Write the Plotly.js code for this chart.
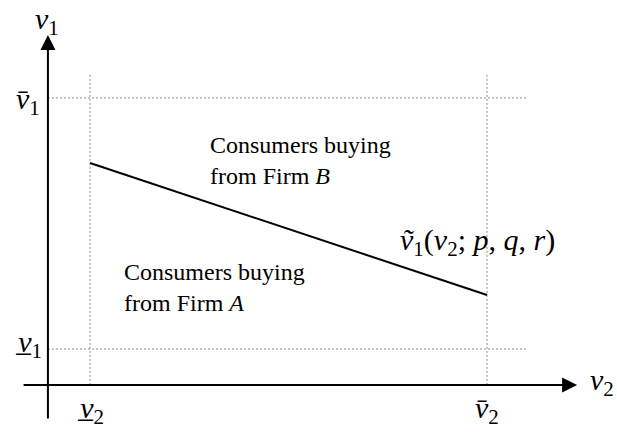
<!DOCTYPE html>
<html>
<head>
<meta charset="utf-8">
<script src="https://cdn.plot.ly/plotly-3.0.1.min.js"></script>
<style>html,body{margin:0;padding:0;background:#fff;}#chart{width:617px;height:436px;}</style>
</head>
<body>
<div id="chart"></div>
<script>
// ---- data (normalised units: lower bound = 0, upper bound = 1) ----
const v2Bounds = [0, 1];          // v2 lower, v2 upper
const v1Bounds = [0, 1];          // v1 lower, v1 upper
const boundaryV2 = [0, 1];        // cut-off curve, x values
const boundaryV1 = [0.741, 0.215];// cut-off curve, v1 values
const v2TickLabels = ["<i>v̲</i><sub>2</sub>", "<i>v̄</i><sub>2</sub>"];
const v1TickLabels = ["<i>v̲</i><sub>1</sub>", "<i>v̄</i><sub>1</sub>"];
const regionLabels = ["Consumers buying<br>from Firm <i>B</i>", "Consumers buying<br>from Firm <i>A</i>"];
const boundaryLabel = "<i>ṽ</i><sub>1</sub>(<i>v</i><sub>2</sub>; <i>p</i>, <i>q</i>, <i>r</i>)";
const axisNames = ["<i>v</i><sub>2</sub>", "<i>v</i><sub>1</sub>"];

// axis geometry in the same units
const originX = -0.106, originY = -0.143;
const xAxisStart = -0.171, xAxisEnd = 1.227;
const yAxisStart = -0.283, yAxisEnd = 1.251;
const guideTop = 1.096, guideRight = 1.101;

const mathFont = {family: "'Liberation Serif', 'Times New Roman', serif", size: 30, color: "#000"};
const textFont = {family: "'Liberation Serif', 'Times New Roman', serif", size: 24, color: "#000"};
const guide = {color: "#8a8a8a", width: 1, dash: "2px,2px"};

const traces = [];
// vertical guides
v2Bounds.forEach(v => traces.push({x: [v, v], y: [originY, guideTop], mode: "lines", line: guide, hoverinfo: "skip"}));
// horizontal guides
v1Bounds.forEach(v => traces.push({x: [originX, guideRight], y: [v, v], mode: "lines", line: guide, hoverinfo: "skip"}));
// boundary line
traces.push({x: boundaryV2, y: boundaryV1, mode: "lines", line: {color: "#000", width: 2}, hoverinfo: "skip"});

const annotations = [
  // axes with arrowheads
  {x: xAxisEnd, y: originY, ax: xAxisStart, ay: originY, axref: "x", ayref: "y", xref: "x", yref: "y",
   text: "", showarrow: true, arrowhead: 2, arrowsize: 1.5, arrowwidth: 2, arrowcolor: "#000", standoff: 0},
  {x: originX, y: yAxisEnd, ax: originX, ay: yAxisStart, axref: "x", ayref: "y", xref: "x", yref: "y",
   text: "", showarrow: true, arrowhead: 2, arrowsize: 1.5, arrowwidth: 2, arrowcolor: "#000", standoff: 0},
  // axis names
  {x: 1.29, y: -0.131, text: axisNames[0], showarrow: false, font: mathFont},
  {x: -0.108, y: 1.39, yanchor: "top", text: axisNames[1], showarrow: false, font: mathFont},
  // tick labels
  {x: v2Bounds[0], y: -0.243, text: v2TickLabels[0], showarrow: false, font: mathFont},
  {x: v2Bounds[1], y: -0.243, text: v2TickLabels[1], showarrow: false, font: mathFont},
  {x: -0.155, y: v1Bounds[0] + 0.02, text: v1TickLabels[0], showarrow: false, font: mathFont},
  {x: -0.155, y: v1Bounds[1] - 0.01, text: v1TickLabels[1], showarrow: false, font: mathFont},
  // region labels
  {x: 0.297, y: 0.75, text: regionLabels[0], showarrow: false, font: textFont, xanchor: "left", align: "left"},
  {x: 0.081, y: 0.247, text: regionLabels[1], showarrow: false, font: textFont, xanchor: "left", align: "left"},
  // boundary label
  {x: 0.975, y: 0.425, text: boundaryLabel, showarrow: false, font: mathFont}
];

const layout = {
  width: 617, height: 436,
  margin: {l: 0, r: 0, t: 0, b: 0},
  paper_bgcolor: "#fff", plot_bgcolor: "#fff",
  showlegend: false,
  xaxis: {range: [-0.2267, 1.3275], visible: false, fixedrange: true},
  yaxis: {range: [-0.3466, 1.3904], visible: false, fixedrange: true},
  annotations: annotations
};

Plotly.newPlot("chart", traces, layout, {displayModeBar: false, staticPlot: true});
</script>
</body>
</html>
